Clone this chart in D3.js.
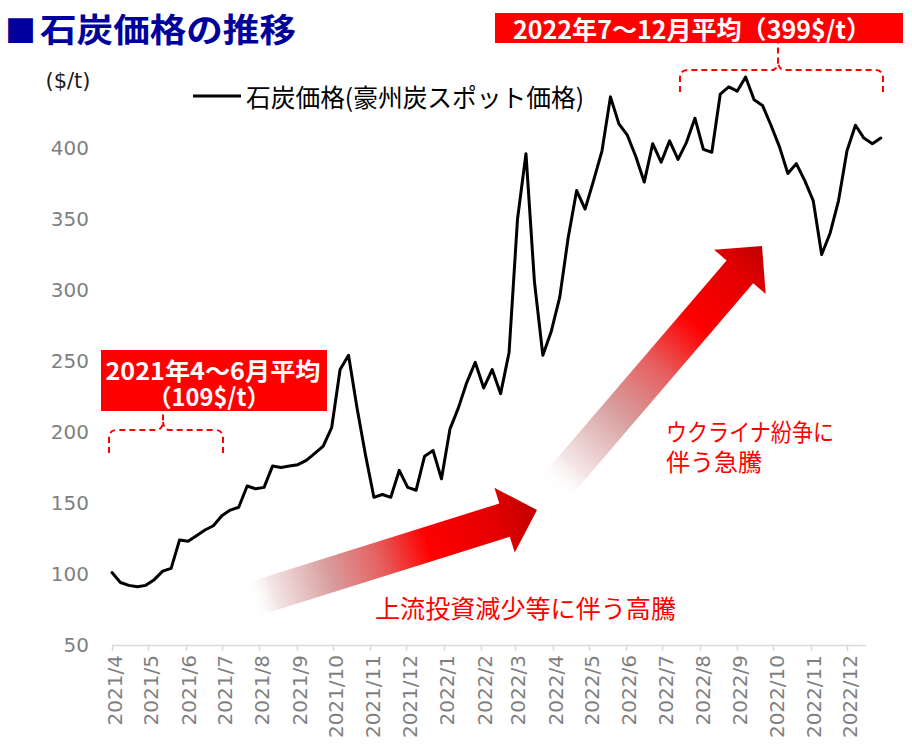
<!DOCTYPE html>
<html><head><meta charset="utf-8">
<script src="https://cdn.jsdelivr.net/npm/d3@7"></script>
<style>
html,body{margin:0;padding:0;background:#fff;}
svg{display:block;}
.jp{font-family:"Noto Sans CJK JP","Noto Sans",sans-serif;}
.num{font-family:"DejaVu Sans",Verdana,sans-serif;}
</style></head>
<body>
<script>
// ---- data ----
const startDate = "2021-04-01";           // first weekly observation
const prices = [101,94,92,91,92,96,102,104,124,123,127,131,134,141,145,147,162,160,161,176,
  175,176,177,180,185,190,203,244,254,217,184,154,156,154,173,161,159,183,187,167,
  202,217,235,249,231,244,227,256,350,396,306,254,271,295,337,370,357,377,398,436,
  417,409,394,376,403,390,405,392,404,421,399,397,438,443,440,450,434,430,416,401,
  382,389,377,363,325,340,363,398,416,407,403,407];
const yTicks = [50,100,150,200,250,300,350,400];
const xTickMonths = ["2021-04","2021-05","2021-06","2021-07","2021-08","2021-09","2021-10","2021-11","2021-12",
  "2022-01","2022-02","2022-03","2022-04","2022-05","2022-06","2022-07","2022-08","2022-09","2022-10","2022-11","2022-12"];
const seriesName = "石炭価格(豪州炭スポット価格)";
const titleText = "石炭価格の推移";
const unitText = "($/t)";
const avgBox1 = ["2021年4～6月平均","（109$/t）"];
const avgBox2 = "2022年7～12月平均（399$/t）";
const arrowText1 = "上流投資減少等に伴う高騰";
const arrowText2 = ["ウクライナ紛争に","伴う急騰"];

const W = 912, H = 755;
const parse = d3.timeParse("%Y-%m-%d");
const parseM = d3.timeParse("%Y-%m");
const d0 = parse(startDate);
const data = prices.map((v,i)=>({date:d3.timeDay.offset(d0, 7*i), value:v}));

const svg = d3.select("body").append("svg").attr("width",W).attr("height",H);

const x = d3.scaleTime().domain([parseM("2021-04"), parseM("2022-12")]).range([112, 847]);
const y = d3.scaleLinear().domain([50,400]).range([645,148]);

// defs: gradients
const defs = svg.append("defs");
function grad(id, stops){
  const g = defs.append("linearGradient").attr("id",id).attr("x1","0").attr("x2","1").attr("y1","0").attr("y2","0");
  stops.forEach(s=>g.append("stop").attr("offset",s[0]).attr("stop-color",s[1]).attr("stop-opacity",s[2]===undefined?1:s[2]));
}
grad("g1",[[0,"#ffffff",0],[0.08,"#f4e6e6"],[0.28,"#d89c9c"],[0.45,"#e66060"],[0.62,"#ff0000"],[0.85,"#e40000"],[1,"#c00000"]]);
grad("g2",[[0,"#ffffff",0],[0.1,"#f4e6e6"],[0.32,"#d89c9c"],[0.5,"#e66060"],[0.68,"#ff0000"],[0.88,"#e40000"],[1,"#c00000"]]);

function arrow(sx,sy,tx,ty,gid){
  const dx=tx-sx, dy=ty-sy, L=Math.hypot(dx,dy), a=Math.atan2(dy,dx)*180/Math.PI;
  const w=17.5,h=34,hl=34;
  svg.append("path")
    .attr("d",`M0,${-w}L${L-hl},${-w}L${L-hl},${-h}L${L},0L${L-hl},${h}L${L-hl},${w}L0,${w}Z`)
    .attr("transform",`translate(${sx},${sy}) rotate(${a})`)
    .attr("fill",`url(#${gid})`);
}
arrow(250,600,537,510,"g1");
arrow(553,490,762,246,"g2");

// x axis
const ax = svg.append("g");
ax.append("line").attr("x1",x.range()[0]).attr("x2",866).attr("y1",645.5).attr("y2",645.5)
  .attr("stroke","#d9d9d9").attr("stroke-width",1.5);
const months = xTickMonths.map(parseM);
ax.selectAll(".tk").data(months).enter().append("line")
  .attr("x1",d=>Math.round(x(d))+0.5).attr("x2",d=>Math.round(x(d))+0.5)
  .attr("y1",645.5).attr("y2",651).attr("stroke","#d9d9d9").attr("stroke-width",1.5);
const fmt = d3.timeFormat("%Y/%-m");
ax.selectAll(".xl").data(months).enter().append("text")
  .attr("class","num")
  .attr("transform",d=>`translate(${x(d)+3},655) rotate(-90)`)
  .attr("text-anchor","end").attr("dy","0.36em")
  .attr("font-size",20).attr("fill","#7f7f7f").text(d=>fmt(d));

// y labels
svg.selectAll(".yl").data(yTicks).enter().append("text")
  .attr("class","num").attr("x",89).attr("y",d=>y(d)).attr("dy","0.36em")
  .attr("text-anchor","end").attr("font-size",20).attr("fill","#7f7f7f").text(d=>d);

svg.append("text").attr("class","num").attr("x",68).attr("y",80).attr("dy","0.36em")
  .attr("text-anchor","middle").attr("font-size",21).attr("fill","#1a1a1a").text(unitText);

// line
svg.append("path").datum(data)
  .attr("d",d3.line().x(d=>x(d.date)).y(d=>y(d.value)))
  .attr("fill","none").attr("stroke","#000").attr("stroke-width",3)
  .attr("stroke-linejoin","round").attr("stroke-linecap","round");

// legend
svg.append("line").attr("x1",193).attr("x2",241).attr("y1",96).attr("y2",96).attr("stroke","#000").attr("stroke-width",3);
svg.append("text").attr("class","jp").attr("x",246).attr("y",96).attr("dominant-baseline","central")
  .attr("font-size",25).attr("textLength",338).attr("lengthAdjust","spacingAndGlyphs").attr("fill","#000").text(seriesName);

// title
svg.append("text").attr("class","jp").attr("x",5).attr("y",28).attr("dominant-baseline","central")
  .attr("font-size",31).attr("font-weight",700).attr("fill","#00009c").text("■");
svg.append("text").attr("class","jp").attr("x",40).attr("y",28).attr("dominant-baseline","central")
  .attr("font-size",33).attr("font-weight",700).attr("textLength",256).attr("lengthAdjust","spacingAndGlyphs")
  .attr("fill","#00009c").text(titleText);

// average box 1 (two lines in one text)
svg.append("rect").attr("x",101).attr("y",350).attr("width",226).attr("height",61).attr("fill","#ff0000");
const t1 = svg.append("text").attr("class","jp").attr("text-anchor","middle")
  .attr("font-size",24).attr("font-weight",700).attr("fill","#fff");
t1.append("tspan").attr("x",213).attr("y",380).attr("textLength",215).attr("lengthAdjust","spacingAndGlyphs").text(avgBox1[0]);
t1.append("tspan").attr("x",209).attr("y",406).attr("textLength",122).attr("lengthAdjust","spacingAndGlyphs").text(avgBox1[1]);

// average box 2
svg.append("rect").attr("x",495).attr("y",13).attr("width",408).attr("height",30).attr("fill","#ff0000");
svg.append("text").attr("class","jp").attr("x",692).attr("y",28).attr("dominant-baseline","central")
  .attr("text-anchor","middle").attr("font-size",25).attr("font-weight",700).attr("fill","#fff")
  .attr("textLength",358).attr("lengthAdjust","spacingAndGlyphs").text(avgBox2);

// brackets
function bracket(l,r,c,top,bot,tip){
  const p = `M${l},${bot}V${top+8}Q${l},${top} ${l+8},${top}H${c-6}Q${c-1},${top} ${c},${top-8}V${tip}`+
            `M${r},${bot}V${top+8}Q${r},${top} ${r-8},${top}H${c+6}Q${c+1},${top} ${c},${top-8}`;
  svg.append("path").attr("d",p).attr("fill","none").attr("stroke","#ff0000")
    .attr("stroke-width",2).attr("stroke-dasharray","6,4");
}
bracket(109,223,163,430,453,411);
bracket(680,883,778,70,92,43);

// arrow labels
svg.append("text").attr("class","jp").attr("x",375).attr("y",607).attr("dominant-baseline","central")
  .attr("font-size",25).attr("fill","#ff0000").attr("textLength",301).attr("lengthAdjust","spacingAndGlyphs").text(arrowText1);
const t2 = svg.append("text").attr("class","jp").attr("font-size",24).attr("fill","#ff0000");
t2.append("tspan").attr("x",666).attr("y",441).attr("textLength",168).attr("lengthAdjust","spacingAndGlyphs").text(arrowText2[0]);
t2.append("tspan").attr("x",666).attr("y",471).attr("textLength",96).attr("lengthAdjust","spacingAndGlyphs").text(arrowText2[1]);
</script>
</body></html>
